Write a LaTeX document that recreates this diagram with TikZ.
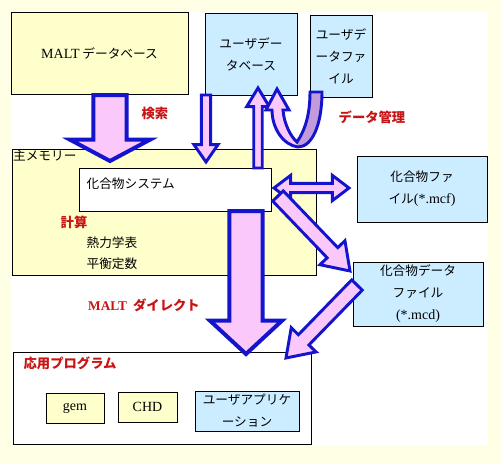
\documentclass[tikz,border=0pt]{standalone}
\usepackage{fontspec}
\setmainfont{Liberation Serif}
\newfontfamily\jp{Noto Sans CJK JP}
\usetikzlibrary{calc}
\definecolor{PageYellow}{RGB}{255,255,230}
\definecolor{BoxYellow}{RGB}{255,255,204}
\definecolor{BoxBlue}{RGB}{204,236,255}
\definecolor{ArrowPink}{RGB}{250,200,250}
\definecolor{ArrowBlue}{RGB}{20,20,205}
\definecolor{ArrowPurple}{RGB}{195,155,220}
\definecolor{LabelRed}{RGB}{200,20,20}
\newcommand{\boxfont}{\fontsize{9.5}{16.5}\selectfont\jp}
\newcommand{\redfont}{\fontsize{10}{12}\selectfont\jp\bfseries}
\newcommand{\lat}{\fontsize{10.5}{16.5}\selectfont\rmfamily}
% block arrow: [style]{from}{to}{shaft half width}{head half width}{head length}
\newcommand{\blockarrow}[6][]{%
  \filldraw[arrowbody,#1] ($(#2)!#4!90:(#3)$) -- ($(#3)!#6!(#2)!#4!-90:(#2)$)
    -- ($(#3)!#6!(#2)!#5!-90:(#2)$) -- (#3) -- ($(#3)!#6!(#2)!#5!90:(#2)$)
    -- ($(#3)!#6!(#2)!#4!90:(#2)$) -- ($(#2)!#4!-90:(#3)$) -- cycle;}
\newcommand{\doubleblockarrow}[6][]{%
  \filldraw[arrowbody,#1] (#2) -- ($(#2)!#6!(#3)!#5!90:(#3)$) -- ($(#2)!#6!(#3)!#4!90:(#3)$)
    -- ($(#3)!#6!(#2)!#4!-90:(#2)$) -- ($(#3)!#6!(#2)!#5!-90:(#2)$) -- (#3)
    -- ($(#3)!#6!(#2)!#5!90:(#2)$) -- ($(#3)!#6!(#2)!#4!90:(#2)$)
    -- ($(#2)!#6!(#3)!#4!-90:(#3)$) -- ($(#2)!#6!(#3)!#5!-90:(#3)$) -- cycle;}

\begin{document}
\begin{tikzpicture}[x=0.75pt,y=-0.75pt,
    box/.style={rectangle,draw,line width=0.75pt,align=center,inner sep=1pt,font=\boxfont},
    ybox/.style={box,fill=BoxYellow},
    bbox/.style={box,fill=BoxBlue},
    plain/.style={inner sep=1pt,font=\boxfont},
    redlabel/.style={inner sep=1pt,text=LabelRed,font=\redfont},
    arrowbody/.style={draw=ArrowBlue,fill=ArrowPink,line width=2.2pt,line join=miter},
    bigarrow/.style={line width=3pt}]
  \useasboundingbox (0,0) rectangle (501,464);
  \fill[PageYellow] (0,0) rectangle (501,464);
  \fill[white] (11,12) rectangle (488,445);

  % sources
  \node[ybox,minimum width=132.75pt,minimum height=61.5pt] (maltdb) at (99.5,53) {{\lat MALT}\ データベース};
  \node[bbox,minimum width=69pt,minimum height=61.5pt] (userdb) at (251,54) {ユーザデー\\タベース};
  \node[bbox,minimum width=46.5pt,minimum height=61.5pt] (ufile) at (341,56) {ユーザデ\\ータファ\\イル};

  % main memory
  \node[ybox,minimum width=228pt,minimum height=94.5pt] (mem) at (164,212) {};
  \node[plain,anchor=north west] (memlabel) at (mem.north west) {主メモリー};
  \node[box,fill=white,minimum width=144pt,minimum height=32.25pt] (sys) at (175,189.5) {};
  \node[plain,anchor=west] (syslabel) at (85,184) {化合物システム};
  \node[redlabel] (calc) at (74,222) {計算};
  \node[plain,anchor=west] (thermo) at (85,243) {熱力学表};
  \node[plain,anchor=west] (equil) at (85,264) {平衡定数};

  % files
  \node[bbox,minimum width=97.5pt,minimum height=49.5pt] (cfile) at (422,189) {化合物ファ\\イル{\lat (*.mcf)}};
  \node[bbox,minimum width=97.5pt,minimum height=48pt] (cdata) at (418,294) {化合物データ\\ファイル\\{\lat (*.mcd)}};

  % applications
  \node[box,fill=white,minimum width=223.5pt,minimum height=69pt] (app) at (162,398) {};
  \node[redlabel,anchor=west] (applabel) at (22,363) {応用プログラム};
  \node[ybox,minimum width=43.5pt,minimum height=22.5pt] (gem) at (75,408) {\lat gem};
  \node[ybox,minimum width=44.25pt,minimum height=22.5pt] (chd) at (147.5,407) {\lat CHD};
  \node[bbox,minimum width=78pt,minimum height=30pt,text width=74pt] (uapp) at (247,411) {ユーザアプリケ\\ーション};

  % arrow ends
  \coordinate (searchS) at (110,95);
  \coordinate (searchT) at (110,161);
  \coordinate (udbS) at (206,95);
  \coordinate (udbT) at (206,162);
  \coordinate (upS) at (258,168);
  \coordinate (upT) at (258,88);
  \coordinate (cfL) at (274,188);
  \coordinate (cfR) at (349,188);
  \coordinate (cdS) at (278,196);
  \coordinate (cdT) at (350,271);
  \coordinate (directS) at (246,211);
  \coordinate (directT) at (246,354);
  \coordinate (appS) at (357,285);
  \coordinate (appT) at (286,358);

  \blockarrow[bigarrow]{searchS}{searchT}{12.5pt}{30pt}{16pt}
  \blockarrow{udbS}{udbT}{3.5pt}{9pt}{13pt}
  \blockarrow{upS}{upT}{3.2pt}{8.5pt}{14pt}
  \doubleblockarrow{cfL}{cfR}{3.5pt}{9.5pt}{12.5pt}
  \blockarrow{cdS}{cdT}{5.5pt}{13pt}{19pt}
  \blockarrow[bigarrow]{directS}{directT}{12.5pt}{27pt}{25pt}
  \blockarrow{appS}{appT}{5.5pt}{13pt}{19pt}

  % curved arrow from the user data file
  \fill[ArrowPink] (310,92) -- (322,92) .. controls (322,125) and (312,147) .. (298,147)
    .. controls (283,145) and (272,128) .. (272,110) -- (266,110) -- (277,89) -- (289,110)
    -- (283,110) .. controls (284,124) and (291,137) .. (297,142)
    .. controls (305,130) and (310,115) .. (310,92) -- cycle;
  \fill[ArrowPurple] (310,92) -- (322,92) .. controls (322,125) and (312,147) .. (298,147)
    -- (297,142) .. controls (305,130) and (310,115) .. (310,92) -- cycle;
  \draw[draw=ArrowBlue,line width=2.2pt,line join=miter] (310,92) -- (322,92)
    .. controls (322,125) and (312,147) .. (298,147)
    .. controls (283,145) and (272,128) .. (272,110) -- (266,110) -- (277,89) -- (289,110)
    -- (283,110) .. controls (284,124) and (291,137) .. (297,142)
    .. controls (305,130) and (310,115) .. (310,92) -- cycle;

  % red labels
  \node[redlabel] (search) at (155,113) {検索};
  \node[redlabel] (manage) at (372,117) {データ管理};
  \node[redlabel] (direct) at (144,305) {{\rmfamily\bfseries MALT}\ \ ダイレクト};
\end{tikzpicture}
\end{document}
